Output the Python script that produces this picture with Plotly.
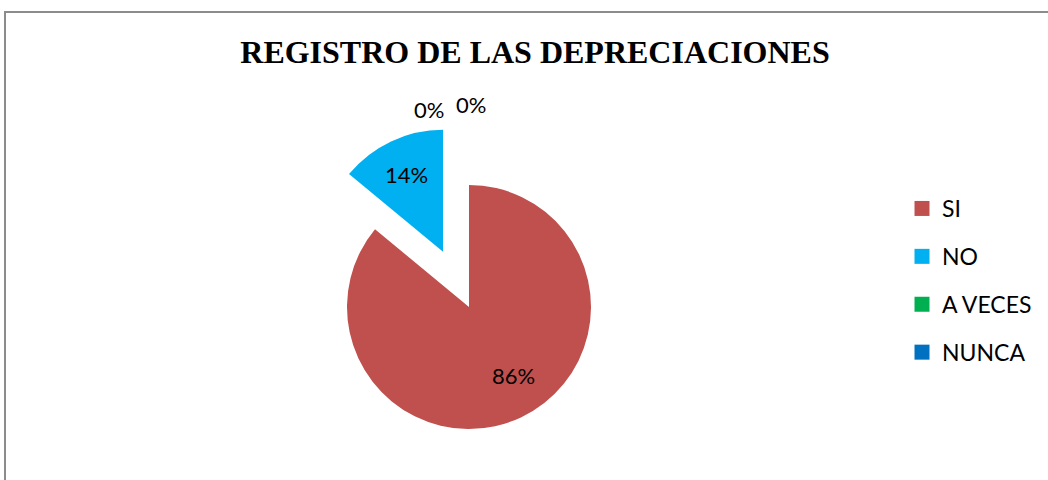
import math
import plotly.graph_objects as go

# Data
labels = ["SI", "NO", "A VECES", "NUNCA"]
values = [86, 14, 0, 0]
colors = ["#C0504D", "#00B0F0", "#00B050", "#0070C0"]
pulled = "NO"

W, H = 1048, 480
cx, cy, r = 469, 307, 122      # pie centre / radius in pixels
pull = 0.5                       # fraction of radius for exploded slice
font = "Lato, Carlito, sans-serif"


def domain(x0, y0):
    return dict(x=[(x0 - r) / W, (x0 + r) / W],
                y=[1 - (y0 + r) / H, 1 - (y0 - r) / H])


# direction of exploded slice (clockwise from 12 o'clock)
total = sum(values)
i = labels.index(pulled)
start = sum(values[:i]) / total * 360
mid = math.radians(start + values[i] / total * 180)
px_, py_ = cx + pull * r * math.sin(mid), cy - pull * r * math.cos(mid)

pct = [f"{v}%" for v in values]
tfont = dict(family=font, size=22, color="black")

fig = go.Figure()

# main pie (exploded slice made transparent), labels added as annotations
fig.add_trace(go.Pie(
    labels=labels, values=values, sort=False, direction="clockwise",
    marker=dict(colors=[c if l != pulled else "rgba(0,0,0,0)" for l, c in zip(labels, colors)]),
    textinfo="none", domain=domain(cx, cy), showlegend=False,
    hoverinfo="label+percent",
))

# exploded slice
fig.add_trace(go.Pie(
    labels=labels, values=values, sort=False, direction="clockwise",
    marker=dict(colors=[c if l == pulled else "rgba(0,0,0,0)" for l, c in zip(labels, colors)]),
    text=[p if l == pulled else "" for l, p in zip(labels, pct)],
    textinfo="text", textposition="inside", insidetextorientation="horizontal",
    textfont=tfont, domain=domain(px_, py_), showlegend=False, hoverinfo="label+percent",
))

# legend entries
for l, c in zip(labels, colors):
    fig.add_trace(go.Scatter(
        x=[None], y=[None], mode="markers", name=l, legendgroup=l,
        marker=dict(symbol="square", size=15, color=c),
    ))

# data labels for SI and the zero-value slices
label_pos = {"SI": (513, 375), "A VECES": (429, 110), "NUNCA": (471, 104)}
for l, p in zip(labels, pct):
    if l in label_pos:
        x, y = label_pos[l]
        fig.add_annotation(x=x / W, y=1 - y / H, xref="paper", yref="paper",
                           xanchor="center", yanchor="middle",
                           text=p, showarrow=False, font=tfont)

# chart border
fig.add_shape(type="rect", xref="paper", yref="paper",
              x0=5 / W, x1=1.2, y0=-0.2, y1=1 - 12 / H,
              line=dict(color="#8c8c8c", width=2))

fig.update_layout(
    width=W, height=H,
    margin=dict(l=0, r=0, t=0, b=0),
    paper_bgcolor="white", plot_bgcolor="white",
    title=dict(text="<b>REGISTRO DE LAS DEPRECIACIONES</b>",
               x=535 / W, xanchor="center", y=1 - 52 / H, yanchor="middle",
               font=dict(family="Times New Roman, Liberation Serif, serif", size=32, color="black")),
    xaxis=dict(visible=False), yaxis=dict(visible=False),
    legend=dict(x=902 / W, xanchor="left", y=1 - 187 / H, yanchor="top",
                font=dict(family=font, size=23, color="black"),
                tracegroupgap=15, bgcolor="rgba(0,0,0,0)"),
)

fig.write_html("out.html", config={"displayModeBar": False},
               post_script="document.body.style.margin = '0';")
